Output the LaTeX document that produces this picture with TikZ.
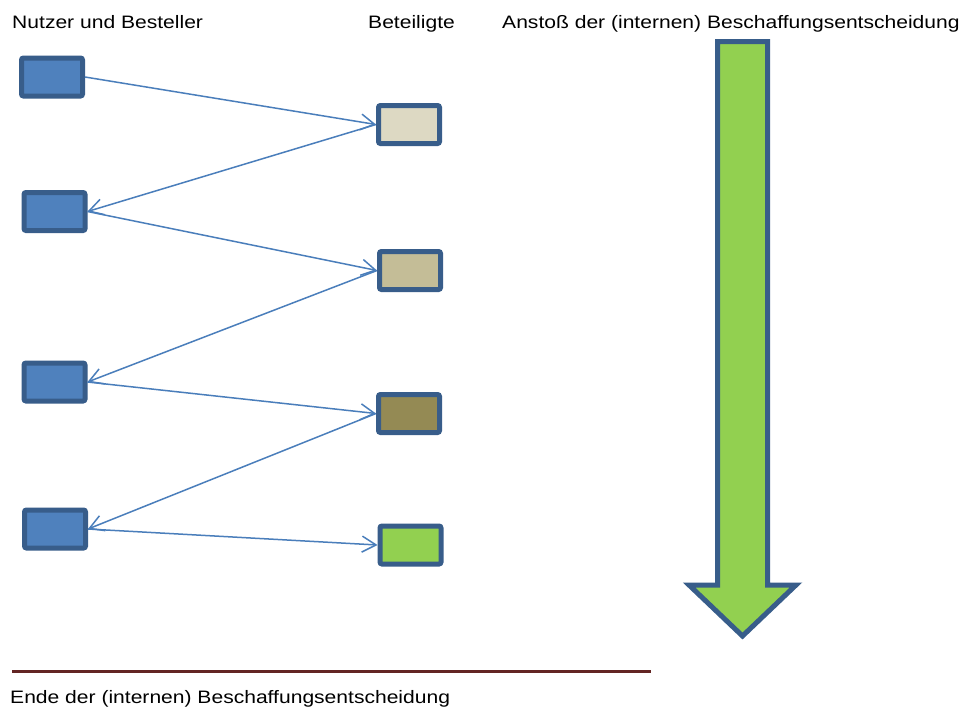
\documentclass[tikz,border=0pt]{standalone}
\usepackage{fontspec}
\setmainfont{Liberation Sans}
\usetikzlibrary{arrows.meta}
\definecolor{boxblue}{HTML}{4F81BD}
\definecolor{boxborder}{HTML}{385D8A}
\definecolor{linkblue}{HTML}{4A7EBB}
\definecolor{tanA}{HTML}{DDD9C3}
\definecolor{tanB}{HTML}{C4BD97}
\definecolor{tanC}{HTML}{948A54}
\definecolor{lgreen}{HTML}{92D050}
\definecolor{endred}{HTML}{632523}
\tikzset{
  actor/.style={draw=boxborder, line width=5pt, rounded corners=2pt, minimum width=61pt, minimum height=38pt, inner sep=0pt},
  link/.style={draw=linkblue, line width=1.5pt, -{Straight Barb[length=14pt,width=16pt,line width=1.5pt]}},
  label/.style={inner sep=0pt, font=\fontsize{18}{20}\selectfont, xscale=1.17, anchor=base west}
}
\begin{document}
\begin{tikzpicture}[x=1pt,y=-1pt]
\useasboundingbox (0,0) rectangle (967,713);
\fill[white] (0,0) rectangle (967,713);
% texts
\node[label] (t1) at (12,28) {Nutzer und Besteller};
\node[label] (t2) at (368,28) {Beteiligte};
\node[label] (t3) at (502,28) {Anstoß der (internen) Beschaffungsentscheidung};
\node[label] (t4) at (10,703) {Ende der (internen) Beschaffungsentscheidung};
% left boxes
\node[actor, fill=boxblue] (b1) at (52,77) {};
\node[actor, fill=boxblue] (b2) at (54.5,211.5) {};
\node[actor, fill=boxblue] (b3) at (54.5,382) {};
\node[actor, fill=boxblue] (b4) at (55,529) {};
% right boxes
\node[actor, fill=tanA] (r1) at (409,124.5) {};
\node[actor, fill=tanB] (r2) at (410,270.5) {};
\node[actor, fill=tanC] (r3) at (409,413.5) {};
\node[actor, fill=lgreen] (r4) at (410.5,545) {};
% links
\draw[link] (b1.east) -- (r1.west);
\draw[link] (r1.west) -- (b2.east);
\draw[link] (b2.east) -- (r2.west);
\draw[link] (r2.west) -- (b3.east);
\draw[link] (b3.east) -- (r3.west);
\draw[link] (r3.west) -- (b4.east);
\draw[link] (b4.east) -- (r4.west);
% big arrow
\draw[draw=boxborder, fill=lgreen, line width=5pt, line join=miter]
  (717.5,41.5) -- (767.5,41.5) -- (767.5,585) -- (796,585) -- (742.5,636)
  -- (689,585) -- (717.5,585) -- cycle;
% end line
\coordinate (l1) at (12,671);
\coordinate (l2) at (651,671);
\draw[endred, line width=3pt] (l1) -- (l2);
\end{tikzpicture}
\end{document}
